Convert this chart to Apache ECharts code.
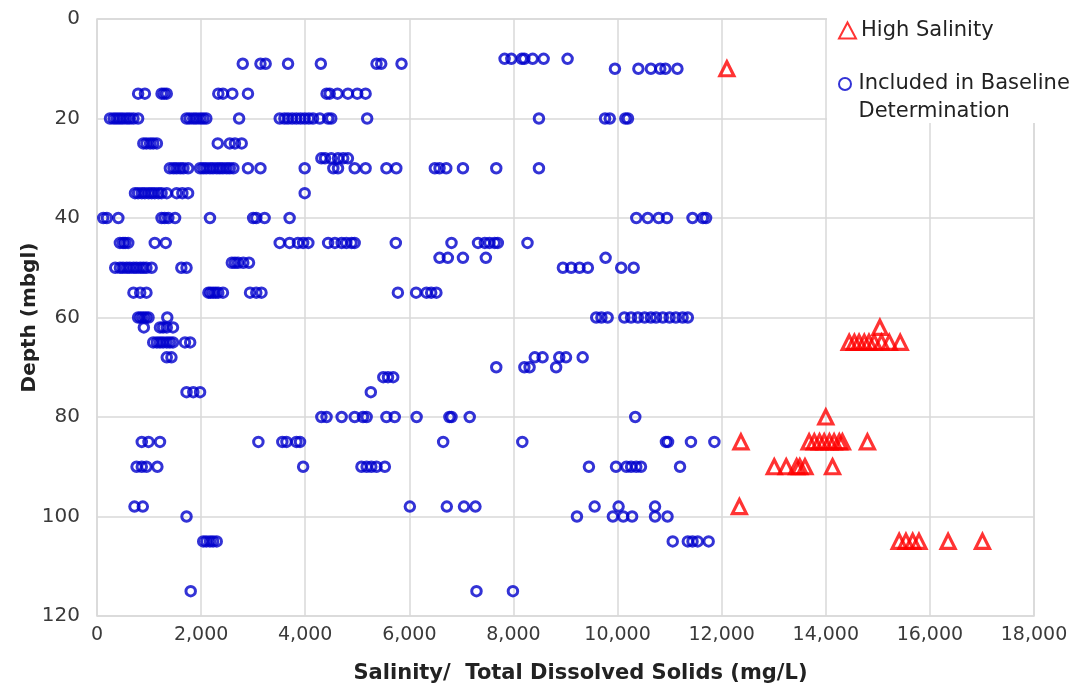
<!DOCTYPE html>
<html><head><meta charset="utf-8">
<script src="https://cdn.jsdelivr.net/npm/echarts@6/dist/echarts.min.js"></script>
<style>html,body{margin:0;padding:0;background:#fff}#c{width:1080px;height:686px}</style>
</head><body><div id="c"></div><script>
// ---- data ----
const xTickValues = [0, 2000, 4000, 6000, 8000, 10000, 12000, 14000, 16000, 18000];
const yTickValues = [0, 20, 40, 60, 80, 100, 120];
const xTitle = 'Salinity/  Total Dissolved Solids (mg/L)';
const yTitle = 'Depth (mbgl)';
const highName = 'High Salinity';
const baseName = 'Included in Baseline Determination';
const baseLegendLines = ['Included in Baseline', 'Determination'];

const baseDepths = [8, 9, 10, 15, 20, 25, 28, 30, 35, 40, 45, 48, 49, 50, 55, 60, 62, 65, 68, 70, 72, 75, 80, 85, 90, 98, 100, 105, 115];
const baseSalinity = [
  [7830, 7960, 8160, 8210, 8370, 8580, 9040],
  [2800, 3140, 3240, 3670, 4300, 5370, 5460, 5850],
  [9950, 10400, 10640, 10820, 10920, 11150],
  [790, 920, 1240, 1290, 1340, 2330, 2420, 2600, 2900, 4410, 4470, 4620, 4820, 5000, 5160],
  [250, 320, 380, 440, 500, 570, 630, 700, 790, 1720, 1780, 1850, 1910, 1980, 2040, 2100, 2730, 3510, 3600, 3670, 3750, 3830, 3910, 3990, 4070, 4150, 4280, 4440, 4500, 5190, 8490, 9760, 9850, 10150, 10200],
  [890, 950, 1020, 1080, 1150, 2320, 2550, 2650, 2780],
  [4310, 4380, 4500, 4630, 4730, 4820],
  [1400, 1470, 1530, 1600, 1660, 1750, 1980, 2040, 2100, 2170, 2230, 2300, 2360, 2420, 2490, 2550, 2620, 2900, 3140, 3990, 4540, 4630, 4950, 5160, 5560, 5750, 6490, 6580, 6710, 7030, 7670, 8490],
  [730, 790, 860, 920, 990, 1050, 1110, 1180, 1240, 1340, 1530, 1640, 1750, 3990],
  [120, 190, 410, 1240, 1300, 1370, 1500, 2170, 3000, 3060, 3220, 3700, 10360, 10580, 10790, 10950, 11440, 11640, 11700],
  [440, 500, 540, 600, 1110, 1320, 3510, 3700, 3860, 3960, 4060, 4440, 4570, 4700, 4790, 4890, 4950, 5740, 6810, 7320, 7450, 7540, 7640, 7700, 8270],
  [6580, 6740, 7030, 7470, 9770],
  [2590, 2650, 2710, 2810, 2920],
  [350, 440, 500, 570, 630, 700, 760, 830, 890, 950, 1050, 1620, 1720, 8950, 9110, 9270, 9430, 10070, 10310],
  [700, 830, 950, 2140, 2180, 2230, 2280, 2330, 2420, 2940, 3060, 3160, 5780, 6130, 6330, 6420, 6520],
  [790, 840, 890, 940, 990, 1350, 9590, 9690, 9810, 10130, 10260, 10390, 10520, 10640, 10740, 10870, 11000, 11120, 11250, 11350],
  [900, 1210, 1270, 1340, 1460],
  [1080, 1150, 1210, 1270, 1340, 1400, 1460, 1690, 1790],
  [1340, 1430, 8410, 8560, 8880, 9010, 9330],
  [7670, 8210, 8310, 8820],
  [5500, 5590, 5690],
  [1720, 1850, 1980, 5260],
  [4310, 4410, 4700, 4950, 5110, 5180, 5560, 5720, 6140, 6770, 6810, 7160, 10340],
  [860, 990, 1210, 3100, 3560, 3640, 3830, 3900, 6650, 8170, 10930, 10970, 11410, 11860],
  [760, 860, 950, 1160, 3960, 5080, 5180, 5270, 5370, 5530, 9450, 9970, 10170, 10260, 10360, 10450, 11200],
  [720, 880, 6010, 6720, 7050, 7270, 9560, 10020, 10720],
  [1720, 9220, 9910, 10110, 10280, 10720, 10960],
  [2040, 2100, 2170, 2230, 2300, 11060, 11350, 11440, 11540, 11750],
  [1800, 7290, 7990]
];

const highDepths = [10, 62, 65, 80, 85, 90, 98, 105];
const highSalinity = [
  [12100],
  [15040],
  [14450, 14550, 14640, 14740, 14830, 14930, 15070, 15220, 15430],
  [14000],
  [12370, 13680, 13780, 13880, 13970, 14070, 14160, 14260, 14320, 14800],
  [13010, 13240, 13440, 13500, 13600, 14130],
  [12340],
  [15410, 15540, 15670, 15790, 16350, 17010]
];

// ---- build ----
function pairs(depths, vals) {
  const out = [];
  depths.forEach((d, i) => vals[i].forEach(v => out.push([v, d])));
  return out;
}
const FONT = '"DejaVu Sans", sans-serif';
const chart = echarts.init(document.getElementById('c'), null, {renderer: 'canvas'});
chart.setOption({
  animation: false,
  backgroundColor: '#fff',
  grid: {left: 97, right: 46, top: 19, bottom: 70, show: true, borderColor: '#d9d9d9', borderWidth: 1.5,
    backgroundColor: 'transparent', containLabel: false, outerBoundsMode: 'none'},
  xAxis: {
    type: 'value', min: xTickValues[0], max: xTickValues[xTickValues.length - 1], interval: xTickValues[1] - xTickValues[0],
    axisLine: {show: false}, axisTick: {show: false},
    splitLine: {show: true, lineStyle: {color: '#d9d9d9', width: 1.5}},
    axisLabel: {fontFamily: FONT, fontSize: 19, color: '#3a3a3a', margin: 10,
      formatter: v => v.toLocaleString('en-US')},
    name: xTitle, nameLocation: 'middle', nameGap: 47, nameMoveOverlap: false,
    nameTextStyle: {fontFamily: FONT, fontSize: 21, fontWeight: 'bold', color: '#222', padding: [0, 0, 0, 30]}
  },
  yAxis: {
    type: 'value', inverse: true, min: yTickValues[0], max: yTickValues[yTickValues.length - 1], interval: yTickValues[1] - yTickValues[0],
    axisLine: {show: false}, axisTick: {show: false},
    splitLine: {show: true, lineStyle: {color: '#d9d9d9', width: 1.5}},
    axisLabel: {fontFamily: FONT, fontSize: 20, color: '#3a3a3a', margin: 17},
    name: yTitle, nameLocation: 'middle', nameGap: 57, nameRotate: 90, nameMoveOverlap: false,
    nameTextStyle: {fontFamily: FONT, fontSize: 20, fontWeight: 'bold', color: '#222'}
  },
  graphic: [{type: 'rect', z: 3, shape: {x: 827, y: 0, width: 253, height: 123}, style: {fill: '#fff'}}],
  legend: [
    {data: [highName], orient: 'vertical', left: 838, top: 20, padding: 0, itemWidth: 17, itemHeight: 16, itemGap: 0,
      textStyle: {fontFamily: FONT, fontSize: 21, color: '#222'}, selectedMode: false},
    {data: [baseName], orient: 'vertical', left: 838, top: 42, padding: 0, itemWidth: 17, itemHeight: 12, itemGap: 0,
      formatter: () => '\n' + baseLegendLines.join('\n'),
      textStyle: {fontFamily: FONT, fontSize: 21, color: '#222', lineHeight: 28}, selectedMode: false}
  ],
  series: [
    {name: highName, type: 'scatter', symbol: 'triangle', symbolSize: 14, data: pairs(highDepths, highSalinity),
      itemStyle: {color: 'rgba(255,255,255,0)', borderColor: '#ff0000', borderWidth: 3.2}, emphasis: {disabled: true}, z: 3},
    {name: baseName, type: 'scatter', symbol: 'circle', symbolSize: 9.5, data: pairs(baseDepths, baseSalinity),
      itemStyle: {color: 'rgba(255,255,255,0)', borderColor: '#0000cc', borderWidth: 3}, emphasis: {disabled: true}, z: 2}
  ]
});
</script></body></html>
